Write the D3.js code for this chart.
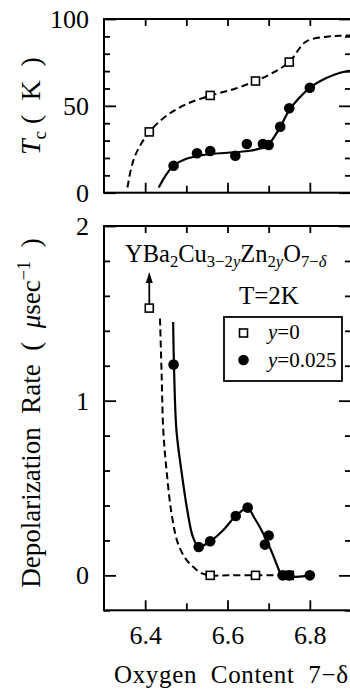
<!DOCTYPE html>
<html>
<head>
<meta charset="utf-8">
<script src="https://cdn.jsdelivr.net/npm/d3@7"></script>
<style>
  html, body { margin: 0; padding: 0; background: #fff; }
  svg { display: block; }
  svg text { font-family: "Liberation Serif", "Times New Roman", Times, serif; fill: #000; }
</style>
</head>
<body>
<div id="chart"></div>
<script>
// ---- data: YBa2Cu(3-2y)Zn(2y)O(7-δ) ----
// y = 0 samples (open squares)
const oxyPure = [6.41, 6.558, 6.668, 6.75];
const tcPure = [35, 56, 64.3, 75.2];
const ratePure = [1.53, 0, 0, 0];          // first value is a lower bound (arrow)

// y = 0.025 samples (filled circles)
const oxyZnTc = [6.469, 6.526, 6.558, 6.619, 6.647, 6.686, 6.70, 6.728, 6.75, 6.80];
const tcZn = [15.5, 22.7, 24.0, 21.3, 28.0, 28.0, 27.5, 38.0, 48.6, 60.4];
const oxyZnRate = [6.469, 6.53, 6.558, 6.62, 6.649, 6.691, 6.70, 6.734, 6.75, 6.80];
const rateZn = [1.207, 0.162, 0.195, 0.34, 0.388, 0.176, 0.228, 0, 0, 0];

// guide curves through the data
const tcPureCurveX = [6.357, 6.365, 6.375, 6.39, 6.41, 6.45, 6.50, 6.56, 6.62, 6.668, 6.71, 6.75, 6.79, 6.84, 6.87, 6.90];
const tcPureCurveY = [3, 13, 21, 28, 35, 44, 51, 56, 60, 64.3, 69, 75.2, 86.9, 89.8, 90.3, 90.5];
const tcZnCurveX = [6.433, 6.45, 6.469, 6.50, 6.55, 6.60, 6.65, 6.68, 6.70, 6.725, 6.75, 6.77, 6.80, 6.84, 6.87, 6.90];
const tcZnCurveY = [3, 10, 15.5, 19.5, 22, 23, 24, 25.5, 28, 36.5, 47.5, 53.5, 60.4, 66, 68.8, 70.2];
const ratePureCurveX = [6.436, 6.440, 6.444, 6.452, 6.464, 6.48, 6.50, 6.516, 6.535, 6.558, 6.60, 6.668, 6.73];
const ratePureCurveY = [1.47, 1.15, 0.83, 0.60, 0.355, 0.18, 0.09, 0.05, 0.015, 0, 0, 0, 0];
const rateZnCurveX = [6.468, 6.470, 6.476, 6.488, 6.504, 6.516, 6.53, 6.558, 6.59, 6.62, 6.649, 6.665, 6.68, 6.695, 6.71, 6.72, 6.734, 6.80];
const rateZnCurveY = [1.45, 1.2, 0.83, 0.60, 0.35, 0.22, 0.165, 0.195, 0.26, 0.34, 0.385, 0.33, 0.27, 0.2, 0.12, 0.06, 0, 0];

// axis ticks
const xTicks = [6.4, 6.5, 6.6, 6.7, 6.8];
const xTickLabels = [6.4, 6.6, 6.8];
const tcTicks = d3.range(0, 101, 10);
const tcTickLabels = [0, 50, 100];
const rateTicks = d3.range(-0.2, 2.001, 0.2).map(v => +v.toFixed(1));
const rateTickLabels = [0, 1, 2];

// ---- layout ----
const W = 350, H = 691;
const SERIF = '"Liberation Serif", "Times New Roman", Times, serif';
const svg = d3.select("#chart").append("svg").attr("width", W).attr("height", H)
  .attr("font-family", SERIF);

const x = d3.scaleLinear().domain([6.3, 6.9]).range([104, 351]);
const yTc = d3.scaleLinear().domain([0, 100]).range([192.7, 19]);
const yRate = d3.scaleLinear().domain([-0.2, 2]).range([610.3, 226]);

const FS = 26;

function frame(yScale) {
  const [y0, y1] = yScale.range();
  svg.append("rect")
    .attr("x", x.range()[0]).attr("y", y1)
    .attr("width", x.range()[1] - x.range()[0]).attr("height", y0 - y1)
    .attr("fill", "none").attr("stroke", "#000").attr("stroke-width", 2);
}

function styleAxisText(s) {
  s.attr("font-family", SERIF).attr("font-size", FS);
}

function yAxes(yScale, ticks, labels) {
  const isMajor = v => labels.some(l => Math.abs(l - v) < 1e-9);
  const g = svg.append("g");
  // left: inward ticks + labels
  g.append("g").attr("transform", `translate(${x.range()[0]},0)`)
    .call(d3.axisLeft(yScale).tickValues(ticks).tickSize(0).tickFormat(""))
    .call(s => s.select(".domain").remove())
    .selectAll(".tick line")
    .attr("x2", d => isMajor(d) ? 12 : 6).attr("stroke-width", 1.8);
  g.append("g").attr("transform", `translate(${x.range()[0]},0)`)
    .call(d3.axisLeft(yScale).tickValues(labels).tickSize(0).tickPadding(15).tickFormat(d3.format("d")))
    .call(styleAxisText)
    .call(s => s.select(".domain").remove());
  // right: inward ticks
  g.append("g").attr("transform", `translate(${x.range()[1]},0)`)
    .call(d3.axisRight(yScale).tickValues(ticks).tickSize(0).tickFormat(""))
    .call(s => s.select(".domain").remove())
    .selectAll(".tick line")
    .attr("x2", d => isMajor(d) ? -12 : -6).attr("stroke-width", 1.8);
}

function xTickMarks(yScale, withLabels) {
  const [y0, y1] = yScale.range();
  svg.append("g").attr("transform", `translate(0,${y1})`)
    .call(d3.axisTop(x).tickValues(xTicks).tickSize(0).tickFormat(""))
    .call(s => s.select(".domain").remove())
    .selectAll(".tick line").attr("y2", 7).attr("stroke-width", 1.8);
  const b = svg.append("g").attr("transform", `translate(0,${y0})`)
    .call(d3.axisBottom(x).tickValues(xTicks).tickSize(0).tickFormat(""))
    .call(s => s.select(".domain").remove());
  b.selectAll(".tick line")
    .attr("y2", d => xTickLabels.includes(d) ? -10 : -7).attr("stroke-width", 1.8);
  if (withLabels) {
    svg.append("g").attr("transform", `translate(0,${y0})`)
      .call(d3.axisBottom(x).tickValues(xTickLabels).tickSize(0).tickPadding(15).tickFormat(d3.format(".1f")))
      .call(styleAxisText)
      .call(s => s.select(".domain").remove());
  }
}

// rich text helper: pieces {t, it, sub, sup, fs}
function rich(sel, pieces, baseFs) {
  let shift = 0;
  pieces.forEach(p => {
    const target = p.sub ? Math.round(baseFs * 0.22) : p.sup ? -Math.round(baseFs * 0.36) : 0;
    const ts = sel.append("tspan").text(p.t)
      .attr("dy", target - shift)
      .style("font-size", (p.fs || ((p.sub || p.sup) ? baseFs * 0.68 : baseFs)) + "px");
    if (p.it) ts.style("font-style", "italic");
    shift = target;
  });
  return sel;
}

const line = (xs, ys, yScale) => d3.line()
  .x((d, i) => x(xs[i])).y((d, i) => yScale(ys[i]))
  .curve(d3.curveCatmullRom.alpha(0.5))(xs);

function squares(xs, ys, yScale) {
  svg.append("g").selectAll("rect").data(xs).join("rect")
    .attr("x", (d, i) => x(d) - 4).attr("y", (d, i) => yScale(ys[i]) - 4)
    .attr("width", 8).attr("height", 8)
    .attr("fill", "#fff").attr("stroke", "#000").attr("stroke-width", 1.6);
}
function circles(xs, ys, yScale) {
  svg.append("g").selectAll("circle").data(xs).join("circle")
    .attr("cx", d => x(d)).attr("cy", (d, i) => yScale(ys[i]))
    .attr("r", 5.3).attr("fill", "#000");
}

// ---- top panel: Tc ----
frame(yTc);
yAxes(yTc, tcTicks, tcTickLabels);
xTickMarks(yTc, false);

svg.append("path").attr("d", line(tcPureCurveX, tcPureCurveY, yTc))
  .attr("fill", "none").attr("stroke", "#000").attr("stroke-width", 2)
  .attr("stroke-dasharray", "7,4");
svg.append("path").attr("d", line(tcZnCurveX, tcZnCurveY, yTc))
  .attr("fill", "none").attr("stroke", "#000").attr("stroke-width", 2.2);
squares(oxyPure, tcPure, yTc);
circles(oxyZnTc, tcZn, yTc);

rich(svg.append("text")
  .attr("transform", "translate(40,106) rotate(-90)")
  .attr("text-anchor", "middle").style("white-space", "pre"),
  [{ t: "T", it: true }, { t: "c", sub: true }, { t: " (  K  )" }], 28);

// ---- bottom panel: depolarization rate ----
frame(yRate);
yAxes(yRate, rateTicks, rateTickLabels);
xTickMarks(yRate, true);

svg.append("path").attr("d", line(ratePureCurveX, ratePureCurveY, yRate))
  .attr("fill", "none").attr("stroke", "#000").attr("stroke-width", 2)
  .attr("stroke-dasharray", "7,4");
svg.append("path").attr("d", line(rateZnCurveX, rateZnCurveY, yRate))
  .attr("fill", "none").attr("stroke", "#000").attr("stroke-width", 2.2);
squares(oxyPure, ratePure, yRate);
circles(oxyZnRate, rateZn, yRate);

// lower-bound arrow on the first y=0 point
{
  const ax = x(oxyPure[0]), ay = yRate(ratePure[0]) - 4;
  const tip = ay - 32;
  svg.append("line").attr("x1", ax).attr("x2", ax).attr("y1", ay).attr("y2", tip + 8)
    .attr("stroke", "#000").attr("stroke-width", 1.8);
  svg.append("path").attr("d", `M${ax},${tip} L${ax - 3.5},${tip + 11} L${ax + 3.5},${tip + 11} Z`)
    .attr("fill", "#000");
}

// compound formula
rich(svg.append("text").attr("x", 125).attr("y", 262),
  [{ t: "YBa" }, { t: "2", sub: true }, { t: "Cu" }, { t: "3−2", sub: true }, { t: "y", sub: true, it: true },
   { t: "Zn" }, { t: "2", sub: true }, { t: "y", sub: true, it: true }, { t: "O" }, { t: "7−", sub: true }, { t: "δ", sub: true, it: true }], 24.5);

svg.append("text").attr("x", 239).attr("y", 304).style("font-size", "25px").text("T=2K");

// legend
svg.append("rect").attr("x", 224).attr("y", 317).attr("width", 118).attr("height", 64)
  .attr("fill", "#fff").attr("stroke", "#000").attr("stroke-width", 1.8);
svg.append("rect").attr("x", 239.5).attr("y", 329).attr("width", 8).attr("height", 8)
  .attr("fill", "#fff").attr("stroke", "#000").attr("stroke-width", 1.6);
svg.append("circle").attr("cx", 243.5).attr("cy", 360).attr("r", 5.3).attr("fill", "#000");
rich(svg.append("text").attr("x", 268).attr("y", 339), [{ t: "y", it: true }, { t: "=0" }], 21);
rich(svg.append("text").attr("x", 268).attr("y", 367), [{ t: "y", it: true }, { t: "=0.025" }], 21);

// y title
rich(svg.append("text")
  .attr("transform", "translate(40,413) rotate(-90)")
  .attr("text-anchor", "middle").style("white-space", "pre"),
  [{ t: "Depolarization  Rate  (  " }, { t: "μ", it: true }, { t: "sec" }, { t: "−1", sup: true }, { t: "  )", fs: 27 }], 27);

// x title
svg.append("text").attr("x", 114).attr("y", 683).style("font-size", "25px").style("white-space", "pre")
  .attr("textLength", 234).attr("lengthAdjust", "spacing")
  .text("Oxygen  Content  7−δ");
</script>
</body>
</html>
